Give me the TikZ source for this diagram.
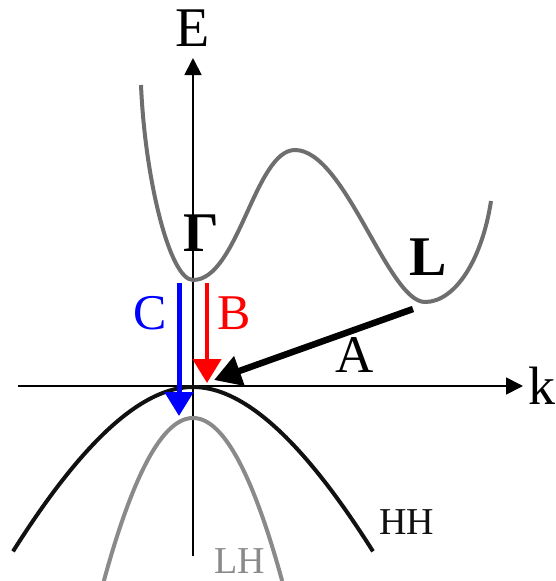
\documentclass[tikz,border=0pt]{standalone}
\usepackage{fontspec}
\setmainfont{Liberation Serif}
\usetikzlibrary{arrows.meta}
\definecolor{cbgray}{HTML}{6E6E6E}
\definecolor{lhgray}{HTML}{8A8A8A}
\definecolor{hhblack}{HTML}{111111}
\tikzset{
  lbl/.style={inner sep=0pt, font=\fontsize{#1}{#1}\selectfont},
  axisline/.style={line width=1.8pt, -{Triangle[length=17pt,width=17pt]}},
  band/.style={line width=4pt},
  transition/.style={line width=#1},
}
\begin{document}
\begin{tikzpicture}[x=1pt,y=-1pt]
\useasboundingbox (0,0) rectangle (555,581);
% axes
\coordinate (yb) at (193,556);
\coordinate (yt) at (193,58);
\coordinate (xl) at (18,386);
\coordinate (xr) at (523,386);
\draw[axisline] (yb) -- (yt);
\draw[axisline] (xl) -- (xr);
% conduction band
\coordinate (c0) at (141,85);
\coordinate (cG) at (193,280);
\coordinate (cM) at (295,150);
\coordinate (cL) at (425,302);
\coordinate (c4) at (491,201);
\draw[band, cbgray] (c0) .. controls (145,180) and (170,280) .. (cG)
  .. controls (238,280) and (255,150) .. (cM)
  .. controls (345,150) and (388,302) .. (cL)
  .. controls (455,302) and (482,260) .. (c4);
% LH band
\draw[band, lhgray] plot[domain=-8.92:8.92, samples=80] ({193+10*\x},{418+2.05*\x*\x});
% HH band
\draw[band, hhblack] plot[domain=-18:18, samples=100] ({193+10*\x},{387+0.69*\x*\x/(1+0.02*abs(\x))});
% labels
\node[lbl=56] (E) at (193,28) {E};
\node[lbl=54] (k) at (542,386) {k};
\node[lbl=56, font=\fontsize{56}{56}\selectfont\bfseries] (G) at (201,233) {Γ};
\node[lbl=56, font=\fontsize{56}{56}\selectfont\bfseries] (L) at (428,257) {L};
\node[lbl=50, text=red] (B) at (234,313) {B};
\node[lbl=50, text=blue] (C) at (150,313) {C};
\node[lbl=53] (A) at (355,355) {A};
\node[lbl=38, text=hhblack] (HH) at (407,522) {HH};
\node[lbl=38, text=lhgray] (LH) at (240,561) {LH};
% transitions
\coordinate (cs) at (179,283);
\coordinate (ce) at (179,416);
\coordinate (bs) at (207,283);
\coordinate (be) at (207,383);
\coordinate (as) at (413,309);
\coordinate (ae) at (214,380);
\draw[transition=5pt, blue, -{Triangle[length=24pt,width=28pt]}] (cs) -- (ce);
\draw[transition=4.5pt, red, -{Triangle[length=24pt,width=28pt]}] (bs) -- (be);
\draw[transition=6.5pt, black, -{Triangle[length=27pt,width=30pt]}] (as) -- (ae);
\end{tikzpicture}
\end{document}
